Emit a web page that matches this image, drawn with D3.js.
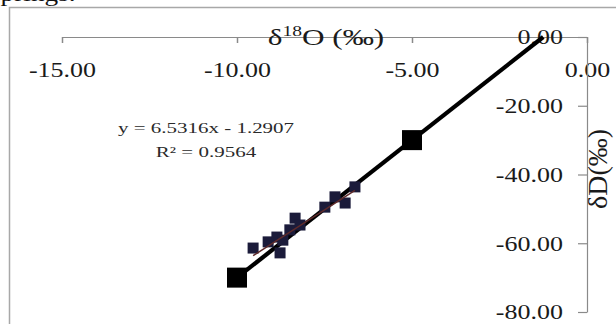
<!DOCTYPE html>
<html>
<head>
<meta charset="utf-8">
<script src="https://cdn.jsdelivr.net/npm/d3@7/dist/d3.min.js"></script>
<style>
  html, body { margin: 0; padding: 0; background: #fff; }
  svg { display: block; }
  text { font-family: "Liberation Serif", "Times New Roman", serif; }
</style>
</head>
<body>
<svg id="chart" width="616" height="324"></svg>
<script>
// Spring water samples (δ18O, δD)
const sampleO18 = [-9.54, -9.11, -8.77, -8.86, -8.69, -8.49, -8.34, -8.20, -7.49, -7.20, -6.91, -6.63];
const sampleD   = [-61.4, -59.6, -62.8, -58.2, -59.1, -56.1, -52.7, -54.7, -49.5, -46.5, -48.3, -43.6];

// Global meteoric water line reference points and drawn segment
const gmwlO18 = [-10, -5];
const gmwlD   = [-70, -30];
const gmwlLineO18 = [-10, -1.25];
const gmwlLineD   = [-70, 0];

// Linear fit of the samples
const fitSlope = 6.5316;
const fitIntercept = -1.2907;
const fitR2 = 0.9564;

// Axis ticks
const xTicks = [-15, -10, -5, 0];
const yTicks = [0, -20, -40, -60, -80];

const svg = d3.select("#chart");
const fmt = d => d.toFixed(2);
const SX = 1.3; // horizontal text stretch

// Caption fragment from the text above the figure
svg.append("text")
  .attr("transform", "translate(-10,1) scale(1.3,1)")
  .attr("font-size", 21).attr("fill", "#111")
  .text("springs.");

// Chart frame
svg.append("rect")
  .attr("x", 9.5).attr("y", 7.5).attr("width", 700).attr("height", 400)
  .attr("fill", "#fff").attr("stroke", "#a8a8a8").attr("stroke-width", 1.5);

const x = d3.scaleLinear().domain([-15, 0]).range([62, 587]);
const y = d3.scaleLinear().domain([-80, 0]).range([312, 37]);

// x axis along the top (crosses at δD = 0)
const gx = svg.append("g")
  .attr("transform", `translate(0,${y(0)})`)
  .call(d3.axisBottom(x).tickValues(xTicks).tickSize(6).tickSizeOuter(0).tickFormat(fmt));
gx.select(".domain").attr("stroke", "#8a8a8a").attr("stroke-width", 1.2);
gx.selectAll(".tick line").attr("stroke", "#8a8a8a").attr("stroke-width", 1.5);
gx.selectAll(".tick text")
  .attr("y", 40).attr("dy", 0)
  .attr("transform", `scale(${SX},1)`)
  .attr("font-size", 20).attr("font-family", "Liberation Serif").attr("fill", "#1a1a1a");

// y axis along the right (crosses at δ18O = 0)
const gy = svg.append("g")
  .attr("transform", `translate(${x(0)},0)`)
  .call(d3.axisLeft(y).tickValues(yTicks).tickSize(9).tickSizeOuter(0).tickFormat(fmt));
gy.select(".domain").attr("stroke", "#8a8a8a").attr("stroke-width", 1.2);
gy.selectAll(".tick line").attr("stroke", "#8a8a8a").attr("stroke-width", 1.2);
gy.selectAll(".tick text")
  .attr("x", -24 / SX).attr("dy", "0.34em")
  .attr("transform", `scale(${SX},1)`)
  .attr("font-size", 20).attr("font-family", "Liberation Serif").attr("fill", "#1a1a1a");

// Axis titles
const xt = svg.append("text")
  .attr("transform", `translate(326,45) scale(${SX},1)`)
  .attr("text-anchor", "middle").attr("font-size", 24).attr("fill", "#1a1a1a");
xt.append("tspan").text("δ");
xt.append("tspan").attr("font-size", 15).attr("dy", -9).text("18");
xt.append("tspan").attr("dy", 9).text("O (‰)");

svg.append("text")
  .attr("transform", "translate(607,169) rotate(-90)")
  .attr("text-anchor", "middle").attr("font-size", 28).attr("fill", "#1a1a1a")
  .text("δD(‰)");

// GMWL line and reference squares
svg.append("line")
  .attr("x1", x(gmwlLineO18[0])).attr("y1", y(gmwlLineD[0]))
  .attr("x2", x(gmwlLineO18[1])).attr("y2", y(gmwlLineD[1]))
  .attr("stroke", "#000").attr("stroke-width", 4.2);

svg.selectAll("rect.gmwl")
  .data(d3.zip(gmwlO18, gmwlD))
  .join("rect").attr("class", "gmwl")
  .attr("x", d => x(d[0]) - 10).attr("y", d => y(d[1]) - 10)
  .attr("width", 20).attr("height", 20)
  .attr("fill", "#000");

// Sample markers
svg.selectAll("rect.sample")
  .data(d3.zip(sampleO18, sampleD))
  .join("rect").attr("class", "sample")
  .attr("x", d => x(d[0]) - 5.5).attr("y", d => y(d[1]) - 5.5)
  .attr("width", 11).attr("height", 11)
  .attr("fill", "#1b1b3a");

// Fitted trend line across the sample range
const [xMin, xMax] = d3.extent(sampleO18);
svg.append("line")
  .attr("x1", x(xMin)).attr("y1", y(fitSlope * xMin + fitIntercept))
  .attr("x2", x(xMax)).attr("y2", y(fitSlope * xMax + fitIntercept))
  .attr("stroke", "#5e2a2a").attr("stroke-width", 1.5);

// Fit equation
const eq = svg.append("g").attr("fill", "#2a2a2a").attr("font-size", 15);
eq.append("text")
  .attr("transform", `translate(206,133) scale(1.4,1)`)
  .attr("text-anchor", "middle")
  .text(`y = ${fitSlope}x - ${Math.abs(fitIntercept)}`);
eq.append("text")
  .attr("transform", `translate(206,157) scale(1.4,1)`)
  .attr("text-anchor", "middle")
  .text(`R² = ${fitR2}`);
</script>
</body>
</html>
